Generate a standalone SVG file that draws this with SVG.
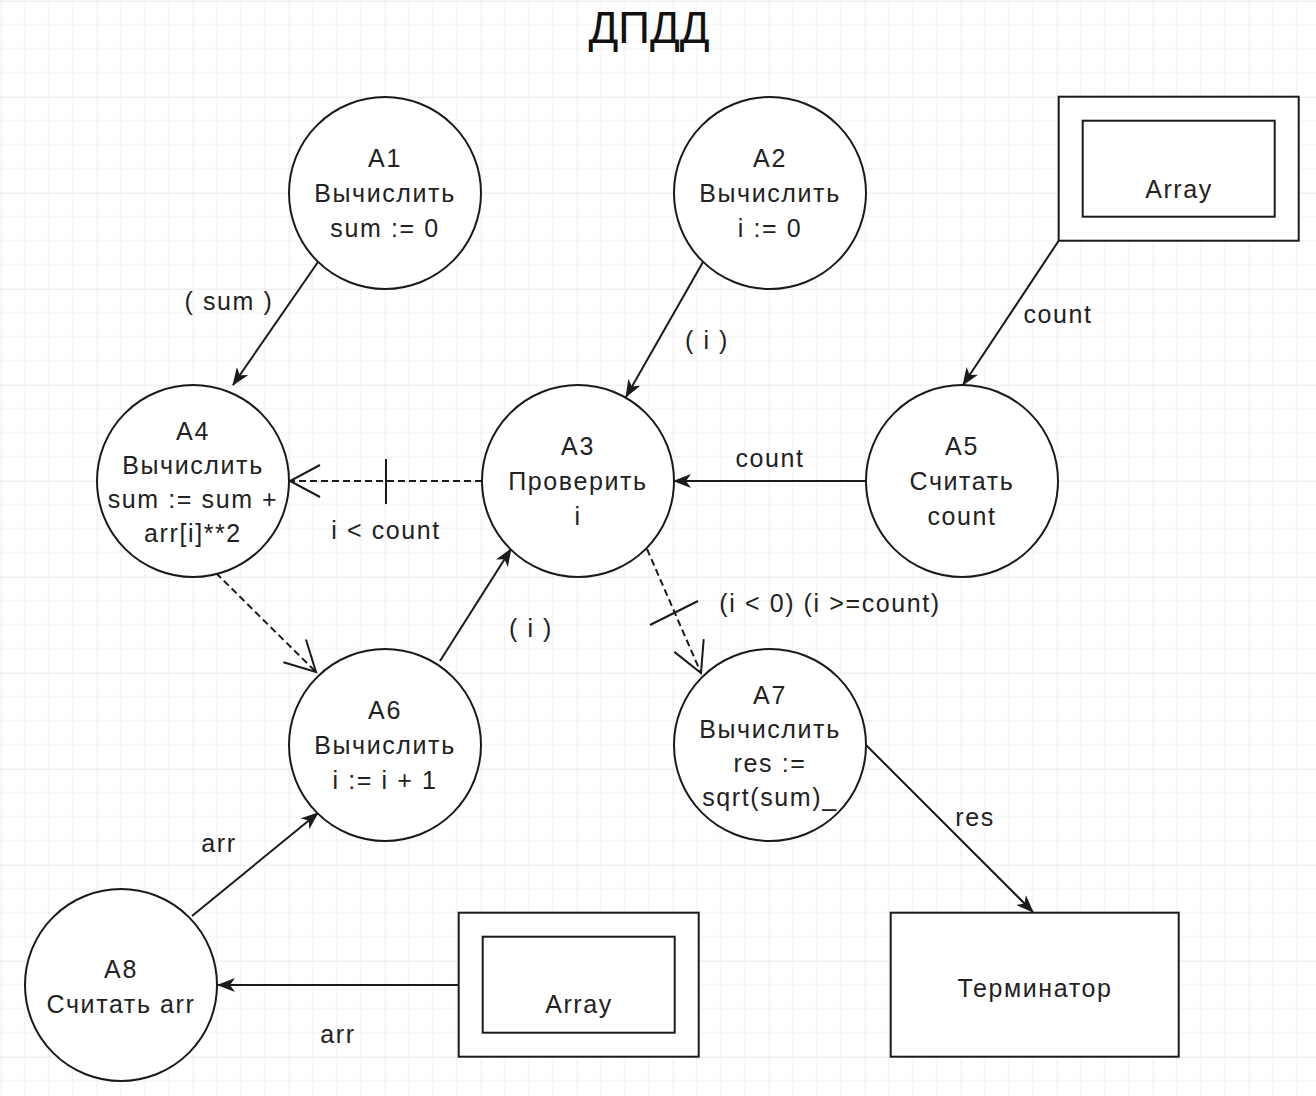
<svg xmlns="http://www.w3.org/2000/svg" width="1316" height="1096" viewBox="0 0 1316 1096">
<defs>
<pattern id="grid" x="0.7" y="0.7" width="96" height="96" patternUnits="userSpaceOnUse">
<path d="M24,0 V96 M48,0 V96 M72,0 V96 M0,24 H96 M0,48 H96 M0,72 H96" stroke="#f0f0f0" stroke-width="1.2" fill="none"/>
<path d="M0,0 V96 M0,0 H96" stroke="#e2e2e2" stroke-width="1.4" fill="none"/>
</pattern>
<marker id="block" viewBox="0 0 18 14" refX="17" refY="7" markerWidth="18" markerHeight="14" markerUnits="userSpaceOnUse" orient="auto">
<path d="M18,7 L0,0 L5,7 L0,14 Z" fill="#1a1a1a"/>
</marker>
<marker id="open" viewBox="0 0 36 36" refX="33" refY="18" markerWidth="36" markerHeight="36" markerUnits="userSpaceOnUse" orient="auto">
<path d="M3,2 L33,18 L3,34" fill="none" stroke="#1a1a1a" stroke-width="2"/>
</marker>
</defs>
<style>
.node{fill:#fff;stroke:#1a1a1a;stroke-width:2}
.t{font-family:"Liberation Sans",Arial,sans-serif;font-size:25px;fill:#222;text-anchor:middle;letter-spacing:1.6px}
.title{font-family:"Liberation Sans",Arial,sans-serif;font-size:44px;fill:#111;text-anchor:middle}
.e{fill:none;stroke:#1a1a1a;stroke-width:2}
.solid{marker-end:url(#block)}
.dash{stroke-dasharray:7 4;marker-end:url(#open)}
</style>
<rect width="1316" height="1096" fill="#fff"/>
<rect width="1316" height="1096" fill="url(#grid)"/>
<text class="title" x="649" y="43">ДПДД</text>

<g id="connectors">
<path class="e solid" d="M318,262 L233,385"/>
<path class="e solid" d="M703,262 L626,397"/>
<path class="e solid" d="M1058.7,240.7 L963,385"/>
<path class="e solid" d="M866,481 L674,481"/>
<path class="e dash" d="M482,481 L290,481"/>
<path class="e" d="M386,459 L386,504"/>
<path class="e dash" d="M216,573 L316,672"/>
<path class="e solid" d="M440,661 L511,549"/>
<path class="e dash" d="M647,549 L701,673"/>
<path class="e" d="M650,625 L698,601"/>
<path class="e solid" d="M866,745 L1033,912"/>
<path class="e solid" d="M192,916 L318,813"/>
<path class="e solid" d="M458.7,985 L218,985"/>
<text class="t" x="229" y="310">( sum )</text>
<text class="t" x="707" y="349">( i )</text>
<text class="t" x="1058" y="323">count</text>
<text class="t" x="770" y="467">count</text>
<text class="t" x="386" y="539">i &lt; count</text>
<text class="t" x="531" y="637">( i )</text>
<text class="t" x="830" y="612">(i &lt; 0) (i &gt;=count)</text>
<text class="t" x="975" y="826">res</text>
<text class="t" x="219" y="852">arr</text>
<text class="t" x="338" y="1043">arr</text>
</g>

<g id="A1">
<circle class="node" cx="385" cy="193" r="96"/>
<text class="t" x="385" y="167">A1</text>
<text class="t" x="385" y="202">Вычислить</text>
<text class="t" x="385" y="237">sum := 0</text>
</g>
<g id="A2">
<circle class="node" cx="770" cy="193" r="96"/>
<text class="t" x="770" y="167">A2</text>
<text class="t" x="770" y="202">Вычислить</text>
<text class="t" x="770" y="237">i := 0</text>
</g>
<g id="Array1">
<rect class="node" x="1058.7" y="96.7" width="240" height="144"/>
<rect class="node" x="1082.7" y="120.7" width="192" height="96"/>
<text class="t" x="1179" y="198">Array</text>
</g>
<g id="A4">
<circle class="node" cx="193" cy="481" r="96"/>
<text class="t" x="193" y="440">A4</text>
<text class="t" x="193" y="474">Вычислить</text>
<text class="t" x="193" y="508">sum := sum +</text>
<text class="t" x="193" y="542">arr[i]**2</text>
</g>
<g id="A3">
<circle class="node" cx="578" cy="481" r="96"/>
<text class="t" x="578" y="455">A3</text>
<text class="t" x="578" y="490">Проверить</text>
<text class="t" x="578" y="525">i</text>
</g>
<g id="A5">
<circle class="node" cx="962" cy="481" r="96"/>
<text class="t" x="962" y="455">A5</text>
<text class="t" x="962" y="490">Считать</text>
<text class="t" x="962" y="525">count</text>
</g>
<g id="A6">
<circle class="node" cx="385" cy="745" r="96"/>
<text class="t" x="385" y="719">A6</text>
<text class="t" x="385" y="754">Вычислить</text>
<text class="t" x="385" y="789">i := i + 1</text>
</g>
<g id="A7">
<circle class="node" cx="770" cy="745" r="96"/>
<text class="t" x="770" y="704">A7</text>
<text class="t" x="770" y="738">Вычислить</text>
<text class="t" x="770" y="772">res :=</text>
<text class="t" x="770" y="806">sqrt(sum)_</text>
</g>
<g id="A8">
<circle class="node" cx="121" cy="985" r="96"/>
<text class="t" x="121" y="978">A8</text>
<text class="t" x="121" y="1013">Считать arr</text>
</g>
<g id="Array2">
<rect class="node" x="458.7" y="912.7" width="240" height="144"/>
<rect class="node" x="482.7" y="936.7" width="192" height="96"/>
<text class="t" x="579" y="1013">Array</text>
</g>
<g id="Terminator">
<rect class="node" x="890.7" y="912.7" width="288" height="144"/>
<text class="t" x="1035" y="997">Терминатор</text>
</g>
</svg>
